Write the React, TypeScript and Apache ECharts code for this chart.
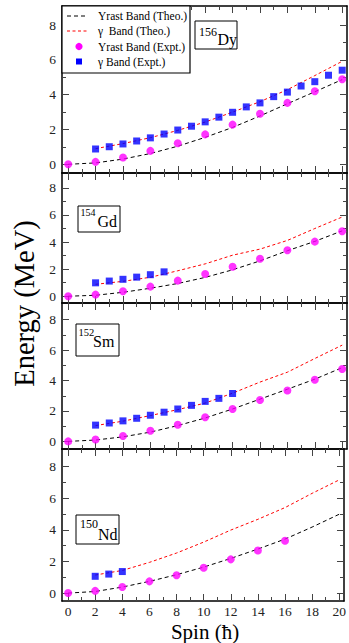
import React, { useEffect, useRef } from "react";
import * as echarts from "echarts";

// ---------- data ----------
const yrastSpins = [0, 2, 4, 6, 8, 10, 12, 14, 16, 18, 20];
const theoGammaSpins = [2, 4, 6, 8, 10, 12, 14, 16, 18, 20];

const dyYrastExpt = [0, 0.14, 0.39, 0.77, 1.21, 1.72, 2.28, 2.91, 3.53, 4.2, 4.89];
const dyGammaSpins = [2, 3, 4, 5, 6, 7, 8, 9, 10, 11, 12, 13, 14, 15, 16, 17, 18, 19, 20];
const dyGammaExpt = [0.88, 1.01, 1.17, 1.34, 1.52, 1.74, 1.97, 2.19, 2.44, 2.71, 2.99, 3.3, 3.53, 3.89, 4.15, 4.5, 4.75, 5.12, 5.41];
const dyYrastTheo = [0, 0.08, 0.3, 0.62, 1.04, 1.55, 2.12, 2.78, 3.48, 4.17, 4.87];
const dyGammaTheo = [0.9, 1.19, 1.53, 1.95, 2.43, 3.0, 3.6, 4.29, 5.1, 5.92];

const gdYrastExpt = [0, 0.12, 0.37, 0.71, 1.15, 1.64, 2.18, 2.77, 3.4, 4.03, 4.8];
const gdGammaSpins = [2, 3, 4, 5, 6, 7];
const gdGammaExpt = [0.99, 1.12, 1.25, 1.41, 1.59, 1.8];
const gdYrastTheo = [0, 0.07, 0.29, 0.59, 0.94, 1.39, 1.95, 2.61, 3.36, 4.05, 4.83];
const gdGammaTheo = [0.88, 1.1, 1.4, 1.88, 2.39, 3.03, 3.48, 4.12, 5.0, 5.85];

const smYrastExpt = [0, 0.12, 0.35, 0.7, 1.1, 1.59, 2.13, 2.72, 3.35, 4.05, 4.76];
const smGammaSpins = [2, 3, 4, 5, 6, 7, 8, 9, 10, 11, 12];
const smGammaExpt = [1.07, 1.21, 1.35, 1.52, 1.72, 1.92, 2.13, 2.37, 2.63, 2.83, 3.15];
const smYrastTheo = [0, 0.09, 0.3, 0.61, 1.04, 1.54, 2.13, 2.78, 3.43, 4.09, 4.85];
const smGammaTheo = [1.04, 1.33, 1.7, 2.09, 2.52, 3.17, 3.9, 4.55, 5.45, 6.33];

const ndYrastExptSpins = [0, 2, 4, 6, 8, 10, 12, 14, 16];
const ndYrastExpt = [0, 0.14, 0.38, 0.74, 1.13, 1.6, 2.13, 2.69, 3.31];
const ndGammaSpins = [2, 3, 4];
const ndGammaExpt = [1.06, 1.2, 1.36];
const ndYrastTheo = [0, 0.1, 0.38, 0.74, 1.16, 1.64, 2.19, 2.78, 3.41, 4.17, 4.98];
const ndGammaTheo = [1.14, 1.43, 1.94, 2.53, 3.22, 3.98, 4.66, 5.4, 6.3, 7.15];

const xMajor = [0, 2, 4, 6, 8, 10, 12, 14, 16, 18, 20];
const xMinor = [1, 3, 5, 7, 9, 11, 13, 15, 17, 19];
const yMajor = [0, 2, 4, 6, 8];
const yMinor = [1, 3, 5, 7];

const legendLabels = ["Yrast Band (Theo.)", "\u03b3  Band (Theo.)", "Yrast Band (Expt.)", "\u03b3 Band (Expt.)"];
const xTitle = "Spin (\u0127)";
const yTitle = "Energy (MeV)";

const panels = [
  { mass: "156", el: "Dy", yrastExptSpins: yrastSpins, yrastExpt: dyYrastExpt, gammaSpins: dyGammaSpins, gammaExpt: dyGammaExpt, yrastTheo: dyYrastTheo, gammaTheo: dyGammaTheo },
  { mass: "154", el: "Gd", yrastExptSpins: yrastSpins, yrastExpt: gdYrastExpt, gammaSpins: gdGammaSpins, gammaExpt: gdGammaExpt, yrastTheo: gdYrastTheo, gammaTheo: gdGammaTheo },
  { mass: "152", el: "Sm", yrastExptSpins: yrastSpins, yrastExpt: smYrastExpt, gammaSpins: smGammaSpins, gammaExpt: smGammaExpt, yrastTheo: smYrastTheo, gammaTheo: smGammaTheo },
  { mass: "150", el: "Nd", yrastExptSpins: ndYrastExptSpins, yrastExpt: ndYrastExpt, gammaSpins: ndGammaSpins, gammaExpt: ndGammaExpt, yrastTheo: ndYrastTheo, gammaTheo: ndGammaTheo },
];

// ---------- layout ----------
const W = 349;
const H = 643;
const FONT = "Liberation Serif, serif";
const X_MIN = -0.45;
const X_MAX = 20.35;
const Y_MIN = -0.5;
const Y_MAX = 9.1;
const gridLeft = 62;
const gridWidth = 285;
const gridTops = [6, 173, 303, 449];
const gridHeights = [167, 130, 146, 152];
// nucleus label boxes: [boxX, boxY, boxW, boxH, massX, massY, massSize, elX, elY]
const labelBoxes = [
  [195, 21, 42, 28, 199, 31.5, 12, 217.5, 39.5],
  [78, 206, 42, 26, 80.5, 212, 10, 97.5, 221],
  [76, 324, 43, 32, 78.5, 332.5, 10.5, 93, 341],
  [76, 515, 43, 29, 80, 524, 12, 98, 534],
];

const zip = (xs: number[], ys: number[]) => ys.map((y, i) => [xs[i], y]);

const tickLine = { color: "#444", width: 1 };
const axisLineStyle = { color: "#000", width: 1.5 };
const labelStyle = { fontSize: 13.5, fontFamily: FONT, color: "#222" };

function makeXAxes(gi: number, showLabels: boolean) {
  const base = { gridIndex: gi, type: "value", min: X_MIN, max: X_MAX, splitLine: { show: false } };
  const mk = (pos: string, major: boolean) => ({
    ...base,
    position: pos,
    axisLine: { show: major, onZero: false, lineStyle: axisLineStyle },
    axisTick: { show: true, inside: true, length: major ? 7 : 4, customValues: major ? xMajor : xMinor, lineStyle: tickLine },
    axisLabel: major && pos === "bottom" && showLabels
      ? { show: true, customValues: xMajor, margin: 3, ...labelStyle }
      : { show: false },
  });
  return [mk("bottom", true), mk("bottom", false), mk("top", true), mk("top", false)];
}

function makeYAxes(gi: number) {
  const base = { gridIndex: gi, type: "value", min: Y_MIN, max: Y_MAX, splitLine: { show: false } };
  const mk = (pos: string, major: boolean) => ({
    ...base,
    position: pos,
    axisLine: { show: major, onZero: false, lineStyle: axisLineStyle },
    axisTick: { show: true, inside: true, length: major ? 7 : 4, customValues: major ? yMajor : yMinor, lineStyle: tickLine },
    axisLabel: major && pos === "left"
      ? { show: true, customValues: yMajor, margin: 6, ...labelStyle }
      : { show: false },
  });
  return [mk("left", true), mk("left", false), mk("right", true), mk("right", false)];
}

function buildOption() {
  const grid: any[] = [];
  const xAxis: any[] = [];
  const yAxis: any[] = [];
  const series: any[] = [];
  const graphic: any[] = [];

  panels.forEach((p, i) => {
    grid.push({ left: gridLeft, top: gridTops[i], width: gridWidth, height: gridHeights[i], show: false });
    xAxis.push(...makeXAxes(i, i === panels.length - 1));
    yAxis.push(...makeYAxes(i));
    const ax = { xAxisIndex: i * 4, yAxisIndex: i * 4 };
    series.push({
      ...ax, type: "line", name: legendLabels[0], data: zip(yrastSpins, p.yrastTheo),
      symbol: "none", showSymbol: false, silent: true, z: 2,
      lineStyle: { color: "#000", width: 1, type: [4, 3] },
    });
    series.push({
      ...ax, type: "line", name: legendLabels[1], data: zip(theoGammaSpins, p.gammaTheo),
      symbol: "none", showSymbol: false, silent: true, z: 2,
      lineStyle: { color: "#ff0000", width: 1, type: [3, 2.5] },
    });
    series.push({
      ...ax, type: "scatter", name: legendLabels[2], data: zip(p.yrastExptSpins, p.yrastExpt),
      symbol: "circle", symbolSize: 8, z: 3, itemStyle: { color: "#ff00ff" },
    });
    series.push({
      ...ax, type: "scatter", name: legendLabels[3], data: zip(p.gammaSpins, p.gammaExpt),
      symbol: "rect", symbolSize: 7, z: 3, itemStyle: { color: "#0000ff" },
    });

    const b = labelBoxes[i];
    graphic.push({ type: "rect", z: 100, shape: { x: b[0], y: b[1], width: b[2], height: b[3] }, style: { fill: "#fff", stroke: "#000", lineWidth: 1 } });
    graphic.push({ type: "text", z: 101, x: b[4], y: b[5], style: { text: p.mass, fontSize: b[6], fontFamily: FONT, fill: "#000", align: "left", verticalAlign: "middle" } });
    graphic.push({ type: "text", z: 101, x: b[7], y: b[8], style: { text: p.el, fontSize: 16, fontFamily: FONT, fill: "#000", align: "left", verticalAlign: "middle" } });
  });

  // legend box
  const rows = [16, 31, 46.5, 61.5];
  graphic.push({ type: "rect", z: 100, shape: { x: 62, y: 6, width: 128, height: 67 }, style: { fill: "#fff", stroke: "#000", lineWidth: 1.2 } });
  graphic.push({ type: "line", z: 101, shape: { x1: 67, y1: rows[0], x2: 88, y2: rows[0] }, style: { stroke: "#000", lineWidth: 1, lineDash: [4, 3] } });
  graphic.push({ type: "line", z: 101, shape: { x1: 67, y1: rows[1], x2: 88, y2: rows[1] }, style: { stroke: "#ff0000", lineWidth: 1, lineDash: [3, 2.5] } });
  graphic.push({ type: "circle", z: 101, shape: { cx: 79, cy: rows[2], r: 3.6 }, style: { fill: "#ff00ff" } });
  graphic.push({ type: "rect", z: 101, shape: { x: 76, y: rows[3] - 3, width: 6, height: 6 }, style: { fill: "#0000ff" } });
  legendLabels.forEach((t, k) => {
    graphic.push({ type: "text", z: 101, x: 98, y: rows[k], style: { text: t, fontSize: 11.5, fontFamily: FONT, fill: "#000", align: "left", verticalAlign: "middle" } });
  });

  // axis titles
  graphic.push({ type: "text", z: 101, x: 24, y: 303.5, rotation: Math.PI / 2, style: { text: yTitle, fontSize: 28.5, fontFamily: FONT, fill: "#000", align: "center", verticalAlign: "middle" } });
  graphic.push({ type: "text", z: 101, x: 205, y: 631.5, style: { text: xTitle, fontSize: 21, fontFamily: FONT, fill: "#000", align: "center", verticalAlign: "middle" } });

  return {
    animation: false,
    backgroundColor: "#fff",
    grid,
    xAxis,
    yAxis,
    series,
    graphic,
  };
}

export default function App() {
  const ref = useRef<HTMLDivElement>(null);
  useEffect(() => {
    if (!ref.current) return;
    const chart = echarts.init(ref.current, null, { renderer: "svg" });
    chart.setOption(buildOption() as any);
    return () => chart.dispose();
  }, []);
  return (
    <div style={{ position: "fixed", left: 0, top: 0, width: W, height: H, background: "#fff" }}>
      <div ref={ref} style={{ width: W, height: H }} />
    </div>
  );
}
